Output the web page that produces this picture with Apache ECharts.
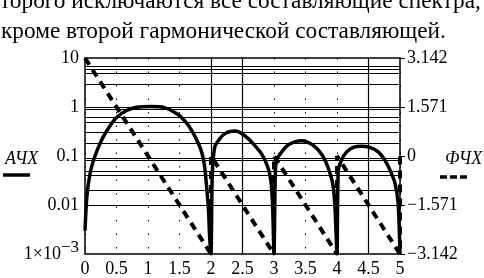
<!DOCTYPE html>
<html>
<head>
<meta charset="utf-8">
<script src="https://cdn.jsdelivr.net/npm/echarts@6/dist/echarts.min.js"></script>
<style>
html,body{margin:0;padding:0;background:#fff;}
#c{width:484px;height:278px;}
</style>
</head>
<body>
<div id="c"></div>
<script>
// ---- data ----
const ampFreq = [0.00,0.03,0.08,0.135,0.215,0.29,0.40,0.51,0.66,0.82,1.04,1.25,1.46,1.62,1.72,1.80,1.86,1.90,1.93,1.96,1.98,2.00,
  2.02,2.06,2.14,2.22,2.32,2.40,2.48,2.59,2.69,2.80,2.88,2.93,2.96,2.98,3.00,
  3.02,3.04,3.12,3.22,3.33,3.44,3.52,3.62,3.73,3.81,3.89,3.94,3.97,4.00,
  4.02,4.07,4.15,4.26,4.39,4.52,4.66,4.76,4.84,4.92,4.97,5.00];
const ampValues = [0.003,0.015,0.044,0.082,0.154,0.245,0.42,0.625,0.85,0.99,1.02,0.98,0.73,0.46,0.29,0.18,0.11,0.06,0.024,0.008,0.002,0.001,
  0.04,0.154,0.226,0.286,0.32,0.324,0.29,0.226,0.166,0.112,0.07,0.044,0.024,0.008,0.001,
  0.04,0.082,0.12,0.166,0.194,0.204,0.194,0.166,0.12,0.082,0.044,0.024,0.008,0.001,
  0.05,0.082,0.12,0.15,0.158,0.15,0.12,0.082,0.052,0.028,0.011,0.001];
const phaseFreq = [0, 2, 2, 3, 3, 4, 4, 5, 5];
const phaseValues = [3.142, -3.142, 0, -3.142, 0, -3.142, 0, -3.142, 0];

const xTickLabels = ['0','0.5','1','1.5','2','2.5','3','3.5','4','4.5','5'];
const leftTickValues = [10, 1, 0.1, 0.01, 0.001];
const leftTickLabels = ['10', '1', '0.1', '0.01', '{a|1×10}{s|−3}'];
const rightTickValues = [3.142, 1.571, 0, -1.571, -3.142];
const rightTickLabels = ['3.142', '1.571', '0', '−1.571', '−3.142'];
// grid lines as drawn in the original (log-axis values)
const hGridValues = [6.78,5.78,4.88,2.97,1.0,0.89,0.625,0.495,0.296,0.185,0.085,0.076,0.0515,0.0366,0.019,0.0077,0.0067,0.0047];
const vSolidValues = [2, 2.5, 4.5];

const titleLines = ['торого исключаются все составляющие спектра,', 'кроме второй гармонической составляющей.'];
const legendNames = ['АЧХ', 'ФЧХ'];

const serif = '"Liberation Serif", "Times New Roman", serif';
const chart = echarts.init(document.getElementById('c'), null, {renderer: 'canvas'});

function labelFor(values, labels, v) {
  for (let i = 0; i < values.length; i++) if (Math.abs(values[i] - v) < 1e-9 * Math.max(1, Math.abs(v))) return labels[i];
  return '';
}

chart.setOption({
  animation: false,
  backgroundColor: '#fff',
  grid: {left: 85, top: 58, width: 315, height: 197, show: true, borderColor: '#000', borderWidth: 1.5, backgroundColor: 'transparent'},
  xAxis: {
    type: 'value', min: 0, max: 5, interval: 0.5,
    axisLine: {show: false}, axisTick: {show: false},
    axisLabel: {margin: 6, color: '#000', fontFamily: serif, fontSize: 18,
      formatter: v => xTickLabels[Math.round(v / 0.5)]},
    splitLine: {show: true, lineStyle: {color: '#000', width: 1, type: [1.5, 12]}}
  },
  yAxis: [{
    type: 'log', logBase: 10, min: 0.001, max: 10,
    axisLine: {show: false}, axisTick: {show: false},
    splitLine: {show: false},
    axisLabel: {margin: 6, color: '#000', fontFamily: serif, fontSize: 18,
      formatter: v => labelFor(leftTickValues, leftTickLabels, v),
      rich: {a: {fontFamily: serif, fontSize: 18, color: '#000', padding: [0,0,0,0]},
             s: {fontFamily: serif, fontSize: 17, color: '#000', verticalAlign: 'top', padding: [0,0,12,0]}}}
  }, {
    type: 'value', min: -3.142, max: 3.142, interval: 1.571,
    axisLine: {show: false},
    axisTick: {show: true, length: 5, lineStyle: {color: '#000', width: 1}},
    splitLine: {show: false},
    axisLabel: {margin: 7, color: '#000', fontFamily: serif, fontSize: 18,
      formatter: v => labelFor(rightTickValues, rightTickLabels, v)}
  }],
  series: [{
    name: legendNames[0], type: 'line', xAxisIndex: 0, yAxisIndex: 0,
    data: ampFreq.map((f, i) => [f, ampValues[i]]),
    showSymbol: false, smooth: 0.25, z: 3,
    lineStyle: {color: '#000', width: 3.5},
    markLine: {silent: true, symbol: 'none', animation: false,
      label: {show: false}, lineStyle: {color: '#000', width: 1, type: 'solid'},
      data: hGridValues.map(v => ({yAxis: v}))}
  }, {
    name: legendNames[1], type: 'line', xAxisIndex: 0, yAxisIndex: 1,
    data: phaseFreq.map((f, i) => [f, phaseValues[i]]),
    showSymbol: false, z: 4,
    lineStyle: {color: '#000', width: 4, type: [8, 6]},
    markLine: {silent: true, symbol: 'none', animation: false,
      label: {show: false}, lineStyle: {color: '#000', width: 1.2, type: 'solid'},
      data: vSolidValues.map(v => ({xAxis: v}))}
  }],
  graphic: [
    {type: 'text', left: 0, top: -10, style: {text: titleLines[0], font: '23.3px ' + serif, fill: '#000'}},
    {type: 'text', left: 1, top: 20, style: {text: titleLines[1], font: '23.3px ' + serif, fill: '#000'}},
    {type: 'text', left: 5, top: 150, style: {text: legendNames[0], font: 'italic 18px ' + serif, fill: '#000'}},
    {type: 'line', shape: {x1: 3, y1: 175, x2: 30, y2: 175}, style: {stroke: '#000', lineWidth: 3.5}},
    {type: 'text', left: 445, top: 150, style: {text: legendNames[1], font: 'italic 18px ' + serif, fill: '#000'}},
    {type: 'line', shape: {x1: 440, y1: 177, x2: 468, y2: 177}, style: {stroke: '#000', lineWidth: 3.5, lineDash: [7, 3]}}
  ]
});
</script>
</body>
</html>
